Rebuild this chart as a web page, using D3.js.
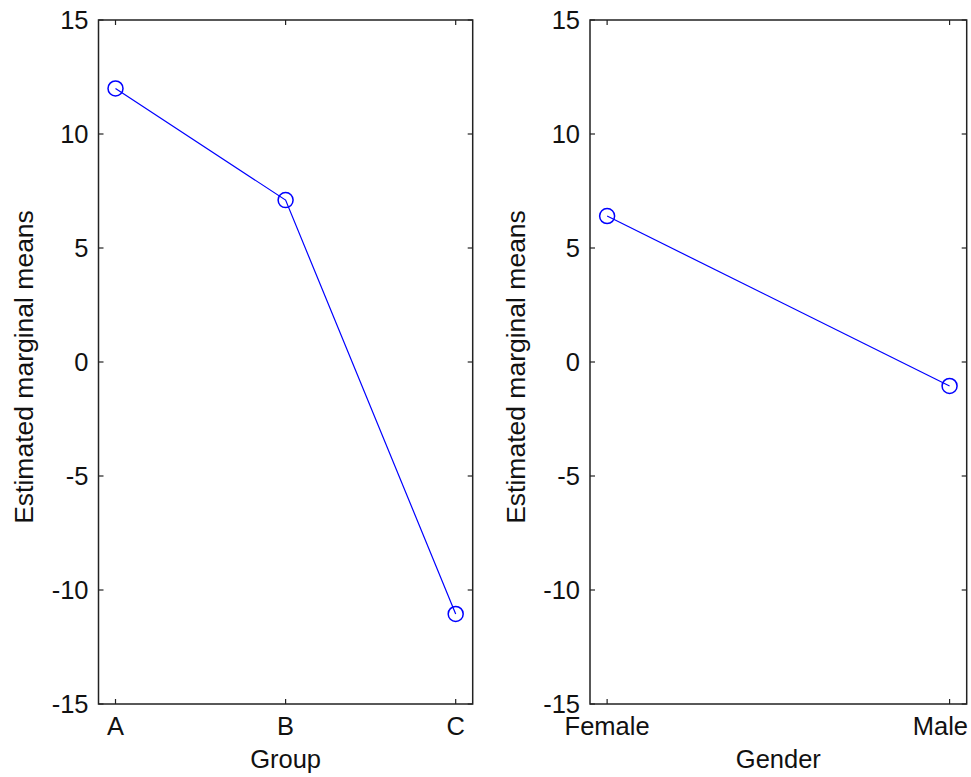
<!DOCTYPE html>
<html><head><meta charset="utf-8">
<script src="https://cdn.jsdelivr.net/npm/d3@7"></script>
<style>body{margin:0;background:#fff}text{font-family:"Liberation Sans",Arial,sans-serif;fill:#111}</style>
</head><body><svg id="c" width="971" height="777"></svg>
<script>
const groupCats = ["A","B","C"];
const groupMeans = [12.0, 7.1, -11.05];
const genderCats = ["Female","Male"];
const genderMeans = [6.4, -1.05];
const yTicks = [-15,-10,-5,0,5,10,15];
const yLabel = "Estimated marginal means";

const svg = d3.select("#c");
const FS = 25.5;
const plotTop = 20, plotBottom = 704;
const W = 971;
const y = d3.scaleLinear().domain([-15,15]).range([plotBottom, plotTop]);

function panel(cats, vals, left, right, pad, xlabel, ylabX){
  const n = cats.length;
  const x = d3.scaleLinear().domain([1-pad, n+pad]).range([left, right]);
  const g = svg.append("g");
  const tl = 5;
  const yt = g.append("g").attr("stroke","#222").attr("stroke-width",1.2);
  yTicks.forEach(t=>{
    yt.append("line").attr("x1",left).attr("x2",left+tl).attr("y1",y(t)).attr("y2",y(t));
    yt.append("line").attr("x1",right).attr("x2",right-tl).attr("y1",y(t)).attr("y2",y(t));
  });
  cats.forEach((c,i)=>{
    yt.append("line").attr("x1",x(i+1)).attr("x2",x(i+1)).attr("y1",plotBottom).attr("y2",plotBottom-tl);
    yt.append("line").attr("x1",x(i+1)).attr("x2",x(i+1)).attr("y1",plotTop).attr("y2",plotTop+tl);
  });
  g.append("rect").attr("x",left).attr("y",plotTop).attr("width",right-left).attr("height",plotBottom-plotTop)
   .attr("fill","none").attr("stroke","#222").attr("stroke-width",1.5);
  yTicks.forEach(t=>{
    g.append("text").attr("x",left-10).attr("y",y(t)).attr("dy","0.36em").attr("text-anchor","end")
     .attr("font-size",FS).text(t);
  });
  cats.forEach((c,i)=>{
    const tx = g.append("text").attr("x",x(i+1)).attr("y",735).attr("text-anchor","middle").attr("font-size",FS).text(c);
    const w = tx.node().getComputedTextLength();
    if (x(i+1) + w/2 > W - 3) tx.attr("text-anchor","end").attr("x", W - 3);
  });
  g.append("text").attr("x",(left+right)/2).attr("y",768).attr("text-anchor","middle").attr("font-size",FS).text(xlabel);
  g.append("text").attr("transform",`translate(${ylabX},${(plotTop+plotBottom)/2+5}) rotate(-90)`).attr("text-anchor","middle")
   .attr("font-size",26.5).text(yLabel);
  const line = d3.line().x((d,i)=>x(i+1)).y(d=>y(d));
  g.append("path").datum(vals).attr("d",line).attr("fill","none").attr("stroke","#0000ff").attr("stroke-width",1.2);
  g.selectAll("circle.m").data(vals).join("circle").attr("cx",(d,i)=>x(i+1)).attr("cy",d=>y(d)).attr("r",7.5)
   .attr("fill","none").attr("stroke","#0000ff").attr("stroke-width",1.5);
}
panel(groupCats, groupMeans, 98.5, 472.7, 0.1, "Group", 33);
panel(genderCats, genderMeans, 590, 966.7, 0.05, "Gender", 525);
</script></body></html>
